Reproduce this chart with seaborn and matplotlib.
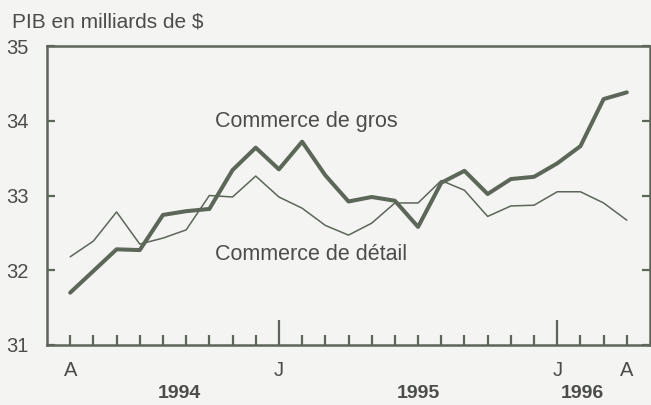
import matplotlib
matplotlib.use("Agg")
import matplotlib.pyplot as plt
import matplotlib.transforms as mtransforms
import seaborn as sns
import pandas as pd

# Months from April 1994 (index 0) to April 1996 (index 24)
months = list(range(25))
gros = [31.70, 31.99, 32.28, 32.27, 32.74, 32.79, 32.82, 33.34, 33.64, 33.35,
        33.72, 33.27, 32.92, 32.98, 32.93, 32.58, 33.17, 33.33, 33.02, 33.22,
        33.25, 33.43, 33.66, 34.29, 34.38]
detail = [32.18, 32.39, 32.78, 32.35, 32.43, 32.54, 33.00, 32.98, 33.26, 32.98,
          32.83, 32.60, 32.47, 32.63, 32.90, 32.90, 33.20, 33.07, 32.72, 32.86,
          32.87, 33.05, 33.05, 32.90, 32.67]
y_ticks = [31, 32, 33, 34, 35]
month_label_pos = [0, 9, 21, 24]
month_labels = ["A", "J", "J", "A"]
year_labels = ["1994", "1995", "1996"]
year_pos = [4.7, 15.0, 22.1]

df = pd.DataFrame({"mois": months, "gros": gros, "detail": detail})

sns.set_theme(style="white")
plt.rcParams["font.family"] = ["Liberation Sans", "DejaVu Sans"]

bg = "#f4f4f2"
ink = "#5c6659"
txt = "#4a4d48"

fig = plt.figure(figsize=(6.51, 4.05), dpi=100, facecolor=bg)
ax = fig.add_axes([47 / 651, 1 - 345 / 405, (650 - 47) / 651, (345 - 46) / 405])
ax.set_facecolor(bg)

sns.lineplot(data=df, x="mois", y="gros", ax=ax, color=ink, linewidth=2.9)
sns.lineplot(data=df, x="mois", y="detail", ax=ax, color=ink, linewidth=1.1)

ax.set_xlim(-1, 25)
ax.set_ylim(31, 35)
ax.set_xlabel("")
ax.set_ylabel("")

for s in ax.spines.values():
    s.set_color(ink)
    s.set_linewidth(1.8)
    s.set_visible(True)

# y ticks
ax.set_yticks(y_ticks)
ax.set_yticklabels([str(v) for v in y_ticks])
ax.tick_params(axis="y", direction="in", length=6, width=1.6, color=ink,
               labelsize=14.5, labelcolor=txt, pad=13, right=True, left=True)

# x ticks: tall at January, short elsewhere
major = [9, 21]
minor = [m for m in months if m not in major]
ax.set_xticks(major)
ax.set_xticklabels(["", ""])
ax.set_xticks(minor, minor=True)
ax.tick_params(axis="x", which="major", direction="in", length=18, width=1.6,
               color=ink, bottom=True)
ax.tick_params(axis="x", which="minor", direction="in", length=7, width=1.6,
               color=ink, bottom=True)

trans = mtransforms.blended_transform_factory(ax.transData, fig.transFigure)
for p, lab in zip(month_label_pos, month_labels):
    ax.text(p, 1 - 370 / 405, lab, transform=trans, ha="center", va="center",
            fontsize=14.5, color=txt)
for p, lab in zip(year_pos, year_labels):
    ax.text(p, 1 - 394 / 405, lab, transform=trans, ha="center", va="center",
            fontsize=14, color=txt, fontweight="bold")

fig.text(12 / 651, 1 - 22 / 405, "PIB en milliards de $", ha="left", va="center",
         fontsize=15, color=txt)

fig.text(306 / 651, 1 - 122 / 405, "Commerce de gros",
         ha="center", va="center", fontsize=15.5, color=txt)
fig.text(311 / 651, 1 - 255 / 405, "Commerce de détail",
         ha="center", va="center", fontsize=15.5, color=txt)

fig.savefig("out.png", dpi=100, facecolor=bg)
